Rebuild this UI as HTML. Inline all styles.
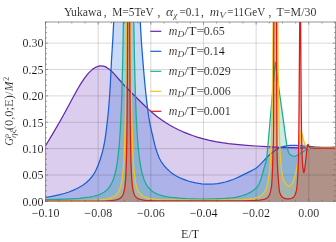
<!DOCTYPE html>
<html><head><meta charset="utf-8"><title>plot</title><style>html,body{margin:0;padding:0;background:#fff}body{width:336px;height:242px;overflow:hidden}</style></head><body>
<svg width="336" height="242" viewBox="0 0 336 242" style="display:block;will-change:transform">
<defs><clipPath id="c"><rect x="45.50" y="22.00" width="289.90" height="179.10"/></clipPath></defs>
<g clip-path="url(#c)">
<polygon points="45.50,201.40 45.50,145.77 53.00,133.36 60.00,121.31 64.50,113.23 73.50,96.47 77.50,89.28 81.00,83.44 84.00,78.90 86.50,75.54 88.50,73.17 90.50,71.11 92.50,69.38 94.00,68.30 95.00,67.69 96.00,67.17 97.00,66.73 98.00,66.39 99.00,66.14 100.00,65.98 101.00,65.92 102.50,66.02 103.50,66.20 105.00,66.67 106.00,67.12 107.00,67.66 108.50,68.66 109.50,69.44 111.00,70.74 113.00,72.69 115.00,74.83 121.50,82.26 124.50,85.55 128.00,89.21 132.00,93.24 144.50,105.55 148.50,109.37 153.00,113.33 157.50,116.92 161.50,119.82 165.50,122.49 169.50,124.94 174.00,127.46 178.50,129.74 183.00,131.80 187.50,133.67 192.50,135.52 198.00,137.32 203.50,138.87 209.50,140.32 215.50,141.54 222.00,142.65 228.50,143.55 236.00,144.40 244.00,145.13 255.50,146.00 267.00,146.71 278.50,147.26 290.00,147.64 301.50,147.85 312.50,147.89 324.00,147.76 335.00,147.46 335.00,201.40" fill="rgb(98,38,177)" fill-opacity="0.23" stroke="none"/>
<polygon points="45.50,201.40 45.50,197.50 51.75,196.41 58.75,194.90 64.25,193.49 69.00,192.00 73.00,190.43 77.00,188.53 79.25,187.31 81.50,186.00 83.00,185.04 84.50,183.96 86.00,182.77 87.50,181.46 89.00,180.03 90.25,178.71 91.50,177.25 92.50,175.95 93.50,174.52 94.50,172.93 95.25,171.56 96.25,169.53 98.00,165.43 100.00,160.00 101.50,155.30 102.75,150.63 104.00,145.00 104.75,140.90 105.75,134.31 107.00,124.42 108.00,115.20 108.75,106.95 109.50,97.30 110.25,85.76 111.50,60.00 113.00,35.84 113.75,20.82 114.50,-1.27 115.50,-40.00 138.50,-40.00 139.25,-9.76 140.00,14.69 140.50,26.15 141.25,39.29 142.00,49.83 143.25,65.65 144.75,82.77 145.75,92.70 146.75,101.62 147.75,109.78 148.50,115.24 149.25,120.00 150.25,125.26 151.25,129.77 153.25,138.26 153.50,139.58 154.75,144.63 155.75,148.25 156.75,151.49 157.75,154.35 158.75,156.83 159.75,158.99 161.00,161.29 162.25,163.24 163.75,165.23 165.75,167.54 167.75,169.58 169.75,171.38 172.00,173.16 174.25,174.71 176.75,176.19 179.25,177.47 182.25,178.81 185.75,180.16 189.00,181.24 192.50,182.22 195.50,182.91 198.75,183.49 201.75,183.88 205.00,184.14 208.00,184.23 211.25,184.17 214.50,183.94 217.75,183.55 221.50,182.89 225.25,182.01 229.00,180.91 233.00,179.49 236.00,178.27 239.00,176.90 251.25,170.88 253.25,169.82 254.75,168.93 256.25,167.90 257.50,166.93 259.00,165.62 261.50,163.16 268.25,156.00 270.50,153.88 272.50,152.20 275.00,150.39 277.50,148.89 280.00,147.71 282.50,146.81 285.00,146.16 287.75,145.69 290.50,145.44 293.50,145.37 296.25,145.44 299.25,145.61 314.75,146.89 321.75,147.31 325.25,147.41 328.75,147.41 332.00,147.30 335.00,147.10 335.00,201.40" fill="rgb(23,96,215)" fill-opacity="0.23" stroke="none"/>
<polygon points="45.50,201.40 45.50,199.59 56.40,199.36 65.40,199.07 73.00,198.72 79.50,198.27 85.00,197.72 89.70,197.06 93.80,196.26 97.30,195.30 98.90,194.75 100.40,194.14 101.80,193.48 103.10,192.77 104.30,192.01 105.50,191.13 106.60,190.19 107.60,189.20 108.60,188.07 109.50,186.89 110.30,185.69 111.10,184.33 111.90,182.76 112.60,181.20 113.90,177.68 115.10,173.49 116.20,168.54 117.20,162.74 118.10,156.06 118.90,148.50 119.60,140.18 120.30,129.68 120.90,118.35 121.40,106.68 121.90,92.35 122.40,74.47 122.80,56.77 123.40,22.38 124.10,-35.84 124.20,-40.00 133.00,-40.00 133.10,-36.14 133.50,0.08 133.90,28.61 134.40,56.47 134.90,78.08 135.50,98.15 136.10,113.66 136.80,127.66 137.70,141.18 138.60,151.24 139.10,155.76 139.70,160.39 140.30,164.34 141.00,168.24 141.70,171.53 142.40,174.34 143.20,177.07 144.00,179.38 144.90,181.59 145.90,183.66 147.00,185.55 148.10,187.13 149.40,188.69 150.80,190.07 152.20,191.21 153.70,192.23 155.40,193.18 157.20,194.01 159.20,194.77 161.40,195.45 163.80,196.05 166.40,196.57 169.20,197.03 172.30,197.43 179.40,198.10 186.90,198.56 200.00,199.04 200.25,199.20 201.25,199.18 212.75,198.88 225.25,198.39 231.50,197.95 233.50,197.70 235.50,197.33 238.75,196.59 242.75,195.50 245.25,194.65 247.50,193.73 250.25,192.37 252.50,191.04 254.25,189.76 256.00,188.18 257.50,186.50 258.00,185.80 258.50,184.95 259.75,182.25 261.00,179.00 261.75,176.53 263.25,170.83 266.00,161.77 266.50,159.42 267.00,155.15 268.00,144.77 271.75,101.70 275.30,62.00 280.05,96.75 283.80,123.54 285.30,135.06 286.05,140.32 287.05,146.55 287.55,149.05 288.30,151.51 288.80,152.72 289.30,153.60 290.30,154.79 291.05,155.32 292.05,155.78 293.05,156.12 293.80,156.27 294.55,156.29 295.55,156.03 297.55,155.13 304.30,150.85 308.80,148.61 309.80,148.24 312.55,147.88 315.55,147.71 335.00,147.60 335.00,201.40" fill="rgb(26,171,145)" fill-opacity="0.23" stroke="none"/>
<polygon points="45.50,201.40 45.50,200.75 72.10,200.59 88.50,200.31 94.45,200.10 99.25,199.82 103.20,199.47 106.45,199.02 109.30,198.44 111.70,197.70 113.70,196.78 114.60,196.24 115.40,195.66 116.15,195.01 116.85,194.30 117.50,193.50 118.10,192.63 119.15,190.70 120.10,188.29 121.00,185.12 121.80,181.19 122.50,176.40 123.10,170.76 123.65,163.68 124.10,155.86 124.50,146.65 124.85,136.06 125.45,109.11 125.95,71.54 126.30,29.83 126.70,-40.00 130.40,-40.00 130.90,43.18 131.15,71.14 131.45,95.92 131.80,116.83 132.25,135.66 132.75,150.00 133.30,160.91 133.85,168.64 134.45,174.74 135.15,179.88 136.00,184.29 136.50,186.25 137.00,187.88 137.55,189.36 138.15,190.70 138.80,191.90 139.50,192.95 140.30,193.94 141.15,194.78 142.50,195.82 144.05,196.70 145.85,197.44 147.95,198.05 150.35,198.54 153.20,198.95 156.55,199.28 160.50,199.54 166.05,199.78 172.90,199.95 191.90,200.13 217.00,200.09 226.90,199.98 234.80,199.81 242.35,199.52 248.15,199.09 252.65,198.51 254.55,198.14 256.25,197.72 257.80,197.22 259.15,196.66 260.40,196.01 261.50,195.28 262.50,194.45 263.40,193.50 264.20,192.46 264.95,191.26 265.65,189.88 266.25,188.44 266.80,186.85 267.35,184.92 268.25,180.78 269.05,175.54 269.70,169.58 270.30,161.98 270.80,153.27 271.25,142.63 271.65,129.86 272.00,114.88 272.55,79.66 273.00,31.94 273.40,-38.45 273.45,-40.00 277.35,-40.00 277.40,-39.72 277.70,16.07 278.10,64.49 278.55,98.95 279.15,127.29 279.50,138.43 279.85,147.04 280.25,154.69 280.75,161.93 281.30,167.84 281.90,172.59 282.60,176.59 283.00,178.31 283.35,179.51 283.80,180.69 284.30,181.64 286.20,184.18 287.00,185.05 287.70,185.66 288.35,186.05 288.95,186.22 289.50,186.15 290.05,185.85 290.65,185.32 291.25,184.61 292.50,182.70 293.00,181.64 293.55,180.22 294.80,176.35 295.75,172.73 296.75,168.01 297.55,163.26 298.05,159.62 298.40,156.49 300.90,130.93 302.20,135.00 303.40,139.68 304.40,142.75 305.00,144.38 305.50,145.48 305.90,146.13 306.90,147.20 307.60,147.69 308.30,147.83 310.70,147.98 317.70,147.99 327.20,147.88 335.00,147.60 335.00,201.40" fill="rgb(246,196,30)" fill-opacity="0.23" stroke="none"/>
<polygon points="45.50,201.40 45.50,201.16 77.85,201.11 95.45,201.00 105.95,200.78 109.55,200.61 112.45,200.39 114.95,200.07 116.95,199.66 118.60,199.11 119.95,198.42 121.05,197.56 122.00,196.45 122.80,195.07 123.45,193.45 124.15,190.87 124.70,187.81 125.20,183.69 125.60,178.85 125.95,172.77 126.25,165.35 126.70,147.37 127.05,122.24 127.35,83.87 127.55,40.88 127.80,-40.00 129.50,-40.00 129.80,53.36 130.10,105.64 130.50,141.37 130.75,154.42 131.10,166.57 131.40,173.58 131.80,180.03 132.25,184.91 132.80,188.86 133.45,191.91 133.85,193.25 134.25,194.31 134.70,195.26 135.20,196.10 135.75,196.83 136.40,197.49 137.40,198.25 138.55,198.84 139.95,199.34 141.60,199.73 143.60,200.04 146.00,200.29 152.60,200.61 164.75,200.82 186.25,200.90 222.40,200.88 243.70,200.75 250.80,200.61 255.95,200.40 259.75,200.10 262.60,199.68 263.75,199.42 264.80,199.09 265.75,198.70 266.55,198.27 267.25,197.78 267.90,197.18 268.50,196.47 269.00,195.71 269.45,194.84 269.90,193.74 270.60,191.31 271.46,186.71 271.72,184.17 272.12,177.72 272.60,167.61 273.34,140.89 273.50,130.00 273.56,118.73 274.00,-40.00 276.20,-40.00 276.50,22.00 276.72,94.84 277.00,150.00 277.30,162.50 277.92,173.70 278.70,183.81 279.30,190.70 279.90,192.95 280.65,194.82 281.10,195.62 281.55,196.26 282.05,196.82 282.65,197.35 283.25,197.76 283.95,198.12 284.80,198.43 285.75,198.67 286.80,198.83 287.85,198.89 288.90,198.86 289.95,198.74 290.90,198.53 291.75,198.24 292.85,197.64 293.75,196.87 294.55,195.82 295.20,194.56 295.75,193.03 296.30,190.79 296.52,190.15 296.76,188.55 297.04,185.73 297.78,175.45 298.18,166.86 298.48,156.70 298.76,139.26 299.08,106.34 299.68,24.88 300.05,-40.00 300.40,-40.00 300.64,28.79 301.20,104.55 301.50,129.37 301.86,147.21 302.18,157.58 302.44,162.26 302.72,165.96 302.96,168.20 303.44,171.44 303.70,172.41 303.82,172.50 303.96,172.31 304.24,171.31 304.76,168.61 305.66,161.47 306.46,153.29 307.04,148.17 307.52,145.44 307.70,144.73 307.86,144.41 308.00,144.44 308.16,144.66 309.34,147.13 310.02,147.76 310.56,148.00 313.98,148.10 335.00,148.00 335.00,201.40" fill="rgb(220,26,22)" fill-opacity="0.23" stroke="none"/>
</g>
<path d="M98.16 22.00V201.40M150.82 22.00V201.40M203.48 22.00V201.40M256.14 22.00V201.40M308.80 22.00V201.40M45.50 175.02H335.40M45.50 148.64H335.40M45.50 122.26H335.40M45.50 95.88H335.40M45.50 69.50H335.40M45.50 43.12H335.40" stroke="#000" stroke-opacity="0.15" stroke-width="1" fill="none"/>
<g clip-path="url(#c)">
<polyline points="45.50,145.77 53.00,133.36 60.00,121.31 64.50,113.23 73.50,96.47 77.50,89.28 81.00,83.44 84.00,78.90 86.50,75.54 88.50,73.17 90.50,71.11 92.50,69.38 94.00,68.30 95.00,67.69 96.00,67.17 97.00,66.73 98.00,66.39 99.00,66.14 100.00,65.98 101.00,65.92 102.50,66.02 103.50,66.20 105.00,66.67 106.00,67.12 107.00,67.66 108.50,68.66 109.50,69.44 111.00,70.74 113.00,72.69 115.00,74.83 121.50,82.26 124.50,85.55 128.00,89.21 132.00,93.24 144.50,105.55 148.50,109.37 153.00,113.33 157.50,116.92 161.50,119.82 165.50,122.49 169.50,124.94 174.00,127.46 178.50,129.74 183.00,131.80 187.50,133.67 192.50,135.52 198.00,137.32 203.50,138.87 209.50,140.32 215.50,141.54 222.00,142.65 228.50,143.55 236.00,144.40 244.00,145.13 255.50,146.00 267.00,146.71 278.50,147.26 290.00,147.64 301.50,147.85 312.50,147.89 324.00,147.76 335.00,147.46" fill="none" stroke="rgb(98,38,177)" stroke-width="1.25" stroke-linejoin="round"/>
<polyline points="45.50,197.50 51.75,196.41 58.75,194.90 64.25,193.49 69.00,192.00 73.00,190.43 77.00,188.53 79.25,187.31 81.50,186.00 83.00,185.04 84.50,183.96 86.00,182.77 87.50,181.46 89.00,180.03 90.25,178.71 91.50,177.25 92.50,175.95 93.50,174.52 94.50,172.93 95.25,171.56 96.25,169.53 98.00,165.43 100.00,160.00 101.50,155.30 102.75,150.63 104.00,145.00 104.75,140.90 105.75,134.31 107.00,124.42 108.00,115.20 108.75,106.95 109.50,97.30 110.25,85.76 111.50,60.00 113.00,35.84 113.75,20.82 114.50,-1.27 115.50,-40.00 138.50,-40.00 139.25,-9.76 140.00,14.69 140.50,26.15 141.25,39.29 142.00,49.83 143.25,65.65 144.75,82.77 145.75,92.70 146.75,101.62 147.75,109.78 148.50,115.24 149.25,120.00 150.25,125.26 151.25,129.77 153.25,138.26 153.50,139.58 154.75,144.63 155.75,148.25 156.75,151.49 157.75,154.35 158.75,156.83 159.75,158.99 161.00,161.29 162.25,163.24 163.75,165.23 165.75,167.54 167.75,169.58 169.75,171.38 172.00,173.16 174.25,174.71 176.75,176.19 179.25,177.47 182.25,178.81 185.75,180.16 189.00,181.24 192.50,182.22 195.50,182.91 198.75,183.49 201.75,183.88 205.00,184.14 208.00,184.23 211.25,184.17 214.50,183.94 217.75,183.55 221.50,182.89 225.25,182.01 229.00,180.91 233.00,179.49 236.00,178.27 239.00,176.90 251.25,170.88 253.25,169.82 254.75,168.93 256.25,167.90 257.50,166.93 259.00,165.62 261.50,163.16 268.25,156.00 270.50,153.88 272.50,152.20 275.00,150.39 277.50,148.89 280.00,147.71 282.50,146.81 285.00,146.16 287.75,145.69 290.50,145.44 293.50,145.37 296.25,145.44 299.25,145.61 314.75,146.89 321.75,147.31 325.25,147.41 328.75,147.41 332.00,147.30 335.00,147.10" fill="none" stroke="rgb(23,96,215)" stroke-width="1.25" stroke-linejoin="round"/>
<polyline points="45.50,199.59 56.40,199.36 65.40,199.07 73.00,198.72 79.50,198.27 85.00,197.72 89.70,197.06 93.80,196.26 97.30,195.30 98.90,194.75 100.40,194.14 101.80,193.48 103.10,192.77 104.30,192.01 105.50,191.13 106.60,190.19 107.60,189.20 108.60,188.07 109.50,186.89 110.30,185.69 111.10,184.33 111.90,182.76 112.60,181.20 113.90,177.68 115.10,173.49 116.20,168.54 117.20,162.74 118.10,156.06 118.90,148.50 119.60,140.18 120.30,129.68 120.90,118.35 121.40,106.68 121.90,92.35 122.40,74.47 122.80,56.77 123.40,22.38 124.10,-35.84 124.20,-40.00 133.00,-40.00 133.10,-36.14 133.50,0.08 133.90,28.61 134.40,56.47 134.90,78.08 135.50,98.15 136.10,113.66 136.80,127.66 137.70,141.18 138.60,151.24 139.10,155.76 139.70,160.39 140.30,164.34 141.00,168.24 141.70,171.53 142.40,174.34 143.20,177.07 144.00,179.38 144.90,181.59 145.90,183.66 147.00,185.55 148.10,187.13 149.40,188.69 150.80,190.07 152.20,191.21 153.70,192.23 155.40,193.18 157.20,194.01 159.20,194.77 161.40,195.45 163.80,196.05 166.40,196.57 169.20,197.03 172.30,197.43 179.40,198.10 186.90,198.56 200.00,199.04 200.25,199.20 201.25,199.18 212.75,198.88 225.25,198.39 231.50,197.95 233.50,197.70 235.50,197.33 238.75,196.59 242.75,195.50 245.25,194.65 247.50,193.73 250.25,192.37 252.50,191.04 254.25,189.76 256.00,188.18 257.50,186.50 258.00,185.80 258.50,184.95 259.75,182.25 261.00,179.00 261.75,176.53 263.25,170.83 266.00,161.77 266.50,159.42 267.00,155.15 268.00,144.77 271.75,101.70 275.30,62.00 280.05,96.75 283.80,123.54 285.30,135.06 286.05,140.32 287.05,146.55 287.55,149.05 288.30,151.51 288.80,152.72 289.30,153.60 290.30,154.79 291.05,155.32 292.05,155.78 293.05,156.12 293.80,156.27 294.55,156.29 295.55,156.03 297.55,155.13 304.30,150.85 308.80,148.61 309.80,148.24 312.55,147.88 315.55,147.71 335.00,147.60" fill="none" stroke="rgb(26,171,145)" stroke-width="1.25" stroke-linejoin="round"/>
<polyline points="45.50,200.75 72.10,200.59 88.50,200.31 94.45,200.10 99.25,199.82 103.20,199.47 106.45,199.02 109.30,198.44 111.70,197.70 113.70,196.78 114.60,196.24 115.40,195.66 116.15,195.01 116.85,194.30 117.50,193.50 118.10,192.63 119.15,190.70 120.10,188.29 121.00,185.12 121.80,181.19 122.50,176.40 123.10,170.76 123.65,163.68 124.10,155.86 124.50,146.65 124.85,136.06 125.45,109.11 125.95,71.54 126.30,29.83 126.70,-40.00 130.40,-40.00 130.90,43.18 131.15,71.14 131.45,95.92 131.80,116.83 132.25,135.66 132.75,150.00 133.30,160.91 133.85,168.64 134.45,174.74 135.15,179.88 136.00,184.29 136.50,186.25 137.00,187.88 137.55,189.36 138.15,190.70 138.80,191.90 139.50,192.95 140.30,193.94 141.15,194.78 142.50,195.82 144.05,196.70 145.85,197.44 147.95,198.05 150.35,198.54 153.20,198.95 156.55,199.28 160.50,199.54 166.05,199.78 172.90,199.95 191.90,200.13 217.00,200.09 226.90,199.98 234.80,199.81 242.35,199.52 248.15,199.09 252.65,198.51 254.55,198.14 256.25,197.72 257.80,197.22 259.15,196.66 260.40,196.01 261.50,195.28 262.50,194.45 263.40,193.50 264.20,192.46 264.95,191.26 265.65,189.88 266.25,188.44 266.80,186.85 267.35,184.92 268.25,180.78 269.05,175.54 269.70,169.58 270.30,161.98 270.80,153.27 271.25,142.63 271.65,129.86 272.00,114.88 272.55,79.66 273.00,31.94 273.40,-38.45 273.45,-40.00 277.35,-40.00 277.40,-39.72 277.70,16.07 278.10,64.49 278.55,98.95 279.15,127.29 279.50,138.43 279.85,147.04 280.25,154.69 280.75,161.93 281.30,167.84 281.90,172.59 282.60,176.59 283.00,178.31 283.35,179.51 283.80,180.69 284.30,181.64 286.20,184.18 287.00,185.05 287.70,185.66 288.35,186.05 288.95,186.22 289.50,186.15 290.05,185.85 290.65,185.32 291.25,184.61 292.50,182.70 293.00,181.64 293.55,180.22 294.80,176.35 295.75,172.73 296.75,168.01 297.55,163.26 298.05,159.62 298.40,156.49 300.90,130.93 302.20,135.00 303.40,139.68 304.40,142.75 305.00,144.38 305.50,145.48 305.90,146.13 306.90,147.20 307.60,147.69 308.30,147.83 310.70,147.98 317.70,147.99 327.20,147.88 335.00,147.60" fill="none" stroke="rgb(246,196,30)" stroke-width="1.25" stroke-linejoin="round"/>
<polyline points="45.50,201.16 77.85,201.11 95.45,201.00 105.95,200.78 109.55,200.61 112.45,200.39 114.95,200.07 116.95,199.66 118.60,199.11 119.95,198.42 121.05,197.56 122.00,196.45 122.80,195.07 123.45,193.45 124.15,190.87 124.70,187.81 125.20,183.69 125.60,178.85 125.95,172.77 126.25,165.35 126.70,147.37 127.05,122.24 127.35,83.87 127.55,40.88 127.80,-40.00 129.50,-40.00 129.80,53.36 130.10,105.64 130.50,141.37 130.75,154.42 131.10,166.57 131.40,173.58 131.80,180.03 132.25,184.91 132.80,188.86 133.45,191.91 133.85,193.25 134.25,194.31 134.70,195.26 135.20,196.10 135.75,196.83 136.40,197.49 137.40,198.25 138.55,198.84 139.95,199.34 141.60,199.73 143.60,200.04 146.00,200.29 152.60,200.61 164.75,200.82 186.25,200.90 222.40,200.88 243.70,200.75 250.80,200.61 255.95,200.40 259.75,200.10 262.60,199.68 263.75,199.42 264.80,199.09 265.75,198.70 266.55,198.27 267.25,197.78 267.90,197.18 268.50,196.47 269.00,195.71 269.45,194.84 269.90,193.74 270.60,191.31 271.46,186.71 271.72,184.17 272.12,177.72 272.60,167.61 273.34,140.89 273.50,130.00 273.56,118.73 274.00,-40.00 276.20,-40.00 276.50,22.00 276.72,94.84 277.00,150.00 277.30,162.50 277.92,173.70 278.70,183.81 279.30,190.70 279.90,192.95 280.65,194.82 281.10,195.62 281.55,196.26 282.05,196.82 282.65,197.35 283.25,197.76 283.95,198.12 284.80,198.43 285.75,198.67 286.80,198.83 287.85,198.89 288.90,198.86 289.95,198.74 290.90,198.53 291.75,198.24 292.85,197.64 293.75,196.87 294.55,195.82 295.20,194.56 295.75,193.03 296.30,190.79 296.52,190.15 296.76,188.55 297.04,185.73 297.78,175.45 298.18,166.86 298.48,156.70 298.76,139.26 299.08,106.34 299.68,24.88 300.05,-40.00 300.40,-40.00 300.64,28.79 301.20,104.55 301.50,129.37 301.86,147.21 302.18,157.58 302.44,162.26 302.72,165.96 302.96,168.20 303.44,171.44 303.70,172.41 303.82,172.50 303.96,172.31 304.24,171.31 304.76,168.61 305.66,161.47 306.46,153.29 307.04,148.17 307.52,145.44 307.70,144.73 307.86,144.41 308.00,144.44 308.16,144.66 309.34,147.13 310.02,147.76 310.56,148.00 313.98,148.10 335.00,148.00" fill="none" stroke="rgb(220,26,22)" stroke-width="1.25" stroke-linejoin="round"/>
</g>
<path d="M45.50 201.40v-2.60M45.50 22.00v2.60M58.67 201.40v-1.50M58.67 22.00v1.50M71.83 201.40v-1.50M71.83 22.00v1.50M85.00 201.40v-1.50M85.00 22.00v1.50M98.16 201.40v-2.60M98.16 22.00v2.60M111.33 201.40v-1.50M111.33 22.00v1.50M124.49 201.40v-1.50M124.49 22.00v1.50M137.66 201.40v-1.50M137.66 22.00v1.50M150.82 201.40v-2.60M150.82 22.00v2.60M163.99 201.40v-1.50M163.99 22.00v1.50M177.15 201.40v-1.50M177.15 22.00v1.50M190.32 201.40v-1.50M190.32 22.00v1.50M203.48 201.40v-2.60M203.48 22.00v2.60M216.65 201.40v-1.50M216.65 22.00v1.50M229.81 201.40v-1.50M229.81 22.00v1.50M242.98 201.40v-1.50M242.98 22.00v1.50M256.14 201.40v-2.60M256.14 22.00v2.60M269.31 201.40v-1.50M269.31 22.00v1.50M282.47 201.40v-1.50M282.47 22.00v1.50M295.64 201.40v-1.50M295.64 22.00v1.50M308.80 201.40v-2.60M308.80 22.00v2.60M321.97 201.40v-1.50M321.97 22.00v1.50M335.13 201.40v-1.50M335.13 22.00v1.50M45.50 201.40h2.60M335.40 201.40h-2.60M45.50 196.12h1.50M335.40 196.12h-1.50M45.50 190.85h1.50M335.40 190.85h-1.50M45.50 185.57h1.50M335.40 185.57h-1.50M45.50 180.30h1.50M335.40 180.30h-1.50M45.50 175.02h2.60M335.40 175.02h-2.60M45.50 169.74h1.50M335.40 169.74h-1.50M45.50 164.47h1.50M335.40 164.47h-1.50M45.50 159.19h1.50M335.40 159.19h-1.50M45.50 153.92h1.50M335.40 153.92h-1.50M45.50 148.64h2.60M335.40 148.64h-2.60M45.50 143.36h1.50M335.40 143.36h-1.50M45.50 138.09h1.50M335.40 138.09h-1.50M45.50 132.81h1.50M335.40 132.81h-1.50M45.50 127.54h1.50M335.40 127.54h-1.50M45.50 122.26h2.60M335.40 122.26h-2.60M45.50 116.98h1.50M335.40 116.98h-1.50M45.50 111.71h1.50M335.40 111.71h-1.50M45.50 106.43h1.50M335.40 106.43h-1.50M45.50 101.16h1.50M335.40 101.16h-1.50M45.50 95.88h2.60M335.40 95.88h-2.60M45.50 90.60h1.50M335.40 90.60h-1.50M45.50 85.33h1.50M335.40 85.33h-1.50M45.50 80.05h1.50M335.40 80.05h-1.50M45.50 74.78h1.50M335.40 74.78h-1.50M45.50 69.50h2.60M335.40 69.50h-2.60M45.50 64.22h1.50M335.40 64.22h-1.50M45.50 58.95h1.50M335.40 58.95h-1.50M45.50 53.67h1.50M335.40 53.67h-1.50M45.50 48.40h1.50M335.40 48.40h-1.50M45.50 43.12h2.60M335.40 43.12h-2.60M45.50 37.84h1.50M335.40 37.84h-1.50M45.50 32.57h1.50M335.40 32.57h-1.50M45.50 27.29h1.50M335.40 27.29h-1.50M45.50 22.02h1.50M335.40 22.02h-1.50" stroke="#606060" stroke-width="0.6" fill="none"/>
<rect x="45.50" y="22.00" width="289.90" height="179.40" fill="none" stroke="#606060" stroke-width="0.65"/>
<text x="43.60" y="206.20" font-size="12.00" text-anchor="end" font-family="'Liberation Serif', serif" stroke="#fff" stroke-width="0.12" paint-order="fill stroke" fill="#111" >0.00</text>
<text x="43.60" y="179.32" font-size="12.00" text-anchor="end" font-family="'Liberation Serif', serif" stroke="#fff" stroke-width="0.12" paint-order="fill stroke" fill="#111" >0.05</text>
<text x="43.60" y="152.94" font-size="12.00" text-anchor="end" font-family="'Liberation Serif', serif" stroke="#fff" stroke-width="0.12" paint-order="fill stroke" fill="#111" >0.10</text>
<text x="43.60" y="126.56" font-size="12.00" text-anchor="end" font-family="'Liberation Serif', serif" stroke="#fff" stroke-width="0.12" paint-order="fill stroke" fill="#111" >0.15</text>
<text x="43.60" y="100.18" font-size="12.00" text-anchor="end" font-family="'Liberation Serif', serif" stroke="#fff" stroke-width="0.12" paint-order="fill stroke" fill="#111" >0.20</text>
<text x="43.60" y="73.80" font-size="12.00" text-anchor="end" font-family="'Liberation Serif', serif" stroke="#fff" stroke-width="0.12" paint-order="fill stroke" fill="#111" >0.25</text>
<text x="43.60" y="47.42" font-size="12.00" text-anchor="end" font-family="'Liberation Serif', serif" stroke="#fff" stroke-width="0.12" paint-order="fill stroke" fill="#111" >0.30</text>
<text x="45.60" y="216.60" font-size="12.00" text-anchor="middle" font-family="'Liberation Serif', serif" stroke="#fff" stroke-width="0.12" paint-order="fill stroke" fill="#111" >−0.10</text>
<text x="98.26" y="216.60" font-size="12.00" text-anchor="middle" font-family="'Liberation Serif', serif" stroke="#fff" stroke-width="0.12" paint-order="fill stroke" fill="#111" >−0.08</text>
<text x="150.92" y="216.60" font-size="12.00" text-anchor="middle" font-family="'Liberation Serif', serif" stroke="#fff" stroke-width="0.12" paint-order="fill stroke" fill="#111" >−0.06</text>
<text x="203.58" y="216.60" font-size="12.00" text-anchor="middle" font-family="'Liberation Serif', serif" stroke="#fff" stroke-width="0.12" paint-order="fill stroke" fill="#111" >−0.04</text>
<text x="256.24" y="216.60" font-size="12.00" text-anchor="middle" font-family="'Liberation Serif', serif" stroke="#fff" stroke-width="0.12" paint-order="fill stroke" fill="#111" >−0.02</text>
<text x="308.80" y="216.60" font-size="12.00" text-anchor="middle" font-family="'Liberation Serif', serif" stroke="#fff" stroke-width="0.12" paint-order="fill stroke" fill="#111" >0.00</text>
<text x="181.00" y="238.00" font-size="12.00" textLength="18.20" lengthAdjust="spacingAndGlyphs" font-family="'Liberation Serif', serif" stroke="#fff" stroke-width="0.12" paint-order="fill stroke" fill="#111" >E/T</text>
<g transform="translate(13.4,145.7) rotate(-90)">
<text x="0.00" y="0.00" font-size="11.80" textLength="7.80" lengthAdjust="spacingAndGlyphs" font-style="italic" font-family="'Liberation Serif', serif" stroke="#fff" stroke-width="0.12" paint-order="fill stroke" fill="#111" >G</text>
<text x="8.00" y="-4.60" font-size="7.80" font-style="italic" font-family="'Liberation Serif', serif" stroke="#fff" stroke-width="0.12" paint-order="fill stroke" fill="#111" >ρ</text>
<text x="7.80" y="2.60" font-size="7.80" textLength="8.80" lengthAdjust="spacingAndGlyphs" font-style="italic" font-family="'Liberation Serif', serif" stroke="#fff" stroke-width="0.12" paint-order="fill stroke" fill="#111" >ηξ</text>
<text x="15.40" y="0.00" font-size="11.80" textLength="38.80" lengthAdjust="spacingAndGlyphs" font-family="'Liberation Serif', serif" stroke="#fff" stroke-width="0.12" paint-order="fill stroke" fill="#111" >(0,0;E)/</text>
<text x="54.50" y="0.00" font-size="11.80" textLength="9.80" lengthAdjust="spacingAndGlyphs" font-style="italic" font-family="'Liberation Serif', serif" stroke="#fff" stroke-width="0.12" paint-order="fill stroke" fill="#111" >M</text>
<text x="64.90" y="-4.50" font-size="7.80" font-family="'Liberation Serif', serif" stroke="#fff" stroke-width="0.12" paint-order="fill stroke" fill="#111" >2</text>
</g>
<text x="63.90" y="16.35" font-size="11.50" textLength="37.80" lengthAdjust="spacingAndGlyphs" font-family="'Liberation Serif', serif" stroke="#fff" stroke-width="0.12" paint-order="fill stroke" fill="#111" >Yukawa</text>
<text x="103.70" y="16.35" font-size="11.50" font-family="'Liberation Serif', serif" stroke="#fff" stroke-width="0.12" paint-order="fill stroke" fill="#111" >,</text>
<text x="112.20" y="16.35" font-size="11.50" textLength="41.60" lengthAdjust="spacingAndGlyphs" font-family="'Liberation Serif', serif" stroke="#fff" stroke-width="0.12" paint-order="fill stroke" fill="#111" >M=5TeV</text>
<text x="157.50" y="16.35" font-size="11.50" font-family="'Liberation Serif', serif" stroke="#fff" stroke-width="0.12" paint-order="fill stroke" fill="#111" >,</text>
<text x="166.00" y="16.35" font-size="11.50" textLength="7.20" lengthAdjust="spacingAndGlyphs" font-style="italic" font-family="'Liberation Serif', serif" stroke="#fff" stroke-width="0.12" paint-order="fill stroke" fill="#111" >α</text>
<text x="173.40" y="17.55" font-size="8.60" font-style="italic" font-family="'Liberation Serif', serif" stroke="#fff" stroke-width="0.12" paint-order="fill stroke" fill="#111" >χ</text>
<text x="179.40" y="16.35" font-size="11.50" textLength="20.50" lengthAdjust="spacingAndGlyphs" font-family="'Liberation Serif', serif" stroke="#fff" stroke-width="0.12" paint-order="fill stroke" fill="#111" >=0.1</text>
<text x="201.00" y="16.35" font-size="11.50" font-family="'Liberation Serif', serif" stroke="#fff" stroke-width="0.12" paint-order="fill stroke" fill="#111" >,</text>
<text x="209.80" y="16.35" font-size="11.50" textLength="9.40" lengthAdjust="spacingAndGlyphs" font-style="italic" font-family="'Liberation Serif', serif" stroke="#fff" stroke-width="0.12" paint-order="fill stroke" fill="#111" >m</text>
<text x="219.30" y="18.15" font-size="7.80" textLength="6.60" lengthAdjust="spacingAndGlyphs" font-style="italic" font-family="'Liberation Serif', serif" stroke="#fff" stroke-width="0.12" paint-order="fill stroke" fill="#111" >V</text>
<text x="227.20" y="16.35" font-size="11.50" textLength="38.00" lengthAdjust="spacingAndGlyphs" font-family="'Liberation Serif', serif" stroke="#fff" stroke-width="0.12" paint-order="fill stroke" fill="#111" >=11GeV</text>
<text x="268.60" y="16.35" font-size="11.50" font-family="'Liberation Serif', serif" stroke="#fff" stroke-width="0.12" paint-order="fill stroke" fill="#111" >,</text>
<text x="276.60" y="16.35" font-size="11.50" textLength="39.80" lengthAdjust="spacingAndGlyphs" font-family="'Liberation Serif', serif" stroke="#fff" stroke-width="0.12" paint-order="fill stroke" fill="#111" >T=M/30</text>
<path d="M150.3 31.30H161.3" stroke="rgb(98,38,177)" stroke-width="1.2"/>
<text x="168.80" y="34.60" font-size="12.00" textLength="8.60" lengthAdjust="spacingAndGlyphs" font-style="italic" font-family="'Liberation Serif', serif" stroke="#fff" stroke-width="0.12" paint-order="fill stroke" fill="#111" >m</text>
<text x="177.40" y="36.60" font-size="7.80" textLength="6.80" lengthAdjust="spacingAndGlyphs" font-style="italic" font-family="'Liberation Serif', serif" stroke="#fff" stroke-width="0.12" paint-order="fill stroke" fill="#111" >D</text>
<text x="184.40" y="34.60" font-size="12.00" textLength="19.60" lengthAdjust="spacingAndGlyphs" font-family="'Liberation Serif', serif" stroke="#fff" stroke-width="0.12" paint-order="fill stroke" fill="#111" >/T=</text>
<text x="203.80" y="34.60" font-size="12.00" font-family="'Liberation Serif', serif" stroke="#fff" stroke-width="0.12" paint-order="fill stroke" fill="#111" >0.65</text>
<path d="M150.3 51.30H161.3" stroke="rgb(23,96,215)" stroke-width="1.2"/>
<text x="168.80" y="54.60" font-size="12.00" textLength="8.60" lengthAdjust="spacingAndGlyphs" font-style="italic" font-family="'Liberation Serif', serif" stroke="#fff" stroke-width="0.12" paint-order="fill stroke" fill="#111" >m</text>
<text x="177.40" y="56.60" font-size="7.80" textLength="6.80" lengthAdjust="spacingAndGlyphs" font-style="italic" font-family="'Liberation Serif', serif" stroke="#fff" stroke-width="0.12" paint-order="fill stroke" fill="#111" >D</text>
<text x="184.40" y="54.60" font-size="12.00" textLength="19.60" lengthAdjust="spacingAndGlyphs" font-family="'Liberation Serif', serif" stroke="#fff" stroke-width="0.12" paint-order="fill stroke" fill="#111" >/T=</text>
<text x="203.80" y="54.60" font-size="12.00" font-family="'Liberation Serif', serif" stroke="#fff" stroke-width="0.12" paint-order="fill stroke" fill="#111" >0.14</text>
<path d="M150.3 71.30H161.3" stroke="rgb(26,171,145)" stroke-width="1.2"/>
<text x="168.80" y="74.60" font-size="12.00" textLength="8.60" lengthAdjust="spacingAndGlyphs" font-style="italic" font-family="'Liberation Serif', serif" stroke="#fff" stroke-width="0.12" paint-order="fill stroke" fill="#111" >m</text>
<text x="177.40" y="76.60" font-size="7.80" textLength="6.80" lengthAdjust="spacingAndGlyphs" font-style="italic" font-family="'Liberation Serif', serif" stroke="#fff" stroke-width="0.12" paint-order="fill stroke" fill="#111" >D</text>
<text x="184.40" y="74.60" font-size="12.00" textLength="19.60" lengthAdjust="spacingAndGlyphs" font-family="'Liberation Serif', serif" stroke="#fff" stroke-width="0.12" paint-order="fill stroke" fill="#111" >/T=</text>
<text x="203.80" y="74.60" font-size="12.00" font-family="'Liberation Serif', serif" stroke="#fff" stroke-width="0.12" paint-order="fill stroke" fill="#111" >0.029</text>
<path d="M150.3 91.30H161.3" stroke="rgb(246,196,30)" stroke-width="1.2"/>
<text x="168.80" y="94.60" font-size="12.00" textLength="8.60" lengthAdjust="spacingAndGlyphs" font-style="italic" font-family="'Liberation Serif', serif" stroke="#fff" stroke-width="0.12" paint-order="fill stroke" fill="#111" >m</text>
<text x="177.40" y="96.60" font-size="7.80" textLength="6.80" lengthAdjust="spacingAndGlyphs" font-style="italic" font-family="'Liberation Serif', serif" stroke="#fff" stroke-width="0.12" paint-order="fill stroke" fill="#111" >D</text>
<text x="184.40" y="94.60" font-size="12.00" textLength="19.60" lengthAdjust="spacingAndGlyphs" font-family="'Liberation Serif', serif" stroke="#fff" stroke-width="0.12" paint-order="fill stroke" fill="#111" >/T=</text>
<text x="203.80" y="94.60" font-size="12.00" font-family="'Liberation Serif', serif" stroke="#fff" stroke-width="0.12" paint-order="fill stroke" fill="#111" >0.006</text>
<path d="M150.3 111.30H161.3" stroke="rgb(220,26,22)" stroke-width="1.2"/>
<text x="168.80" y="114.60" font-size="12.00" textLength="8.60" lengthAdjust="spacingAndGlyphs" font-style="italic" font-family="'Liberation Serif', serif" stroke="#fff" stroke-width="0.12" paint-order="fill stroke" fill="#111" >m</text>
<text x="177.40" y="116.60" font-size="7.80" textLength="6.80" lengthAdjust="spacingAndGlyphs" font-style="italic" font-family="'Liberation Serif', serif" stroke="#fff" stroke-width="0.12" paint-order="fill stroke" fill="#111" >D</text>
<text x="184.40" y="114.60" font-size="12.00" textLength="19.60" lengthAdjust="spacingAndGlyphs" font-family="'Liberation Serif', serif" stroke="#fff" stroke-width="0.12" paint-order="fill stroke" fill="#111" >/T=</text>
<text x="203.80" y="114.60" font-size="12.00" font-family="'Liberation Serif', serif" stroke="#fff" stroke-width="0.12" paint-order="fill stroke" fill="#111" >0.001</text>
</svg>
</body></html>
